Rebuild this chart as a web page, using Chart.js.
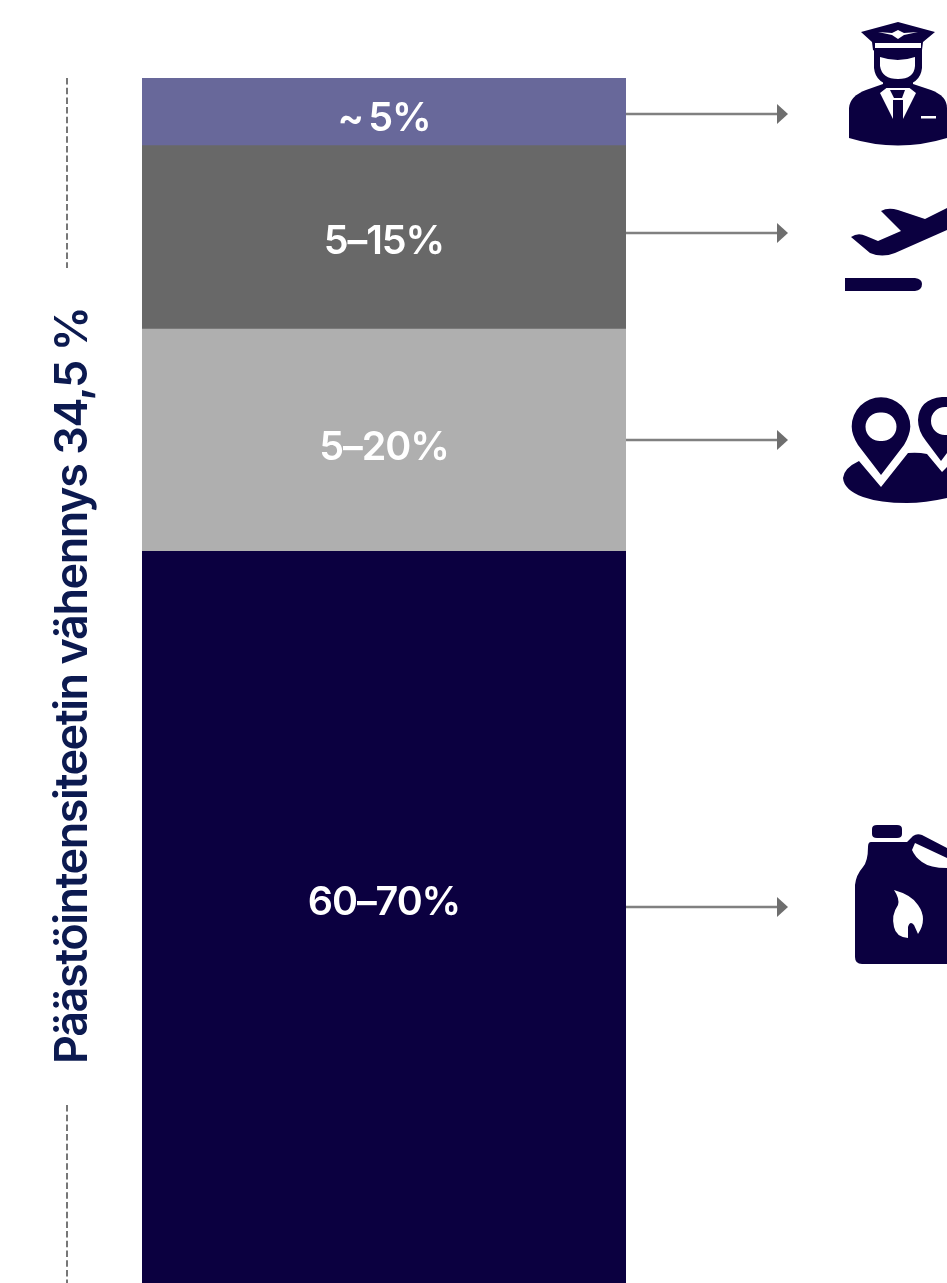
<!DOCTYPE html>
<html>
<head>
<meta charset="utf-8">
<title>Päästöintensiteetin vähennys</title>
<script src="https://cdn.jsdelivr.net/npm/chart.js@4/dist/chart.umd.js"></script>
<style>
html, body { margin: 0; padding: 0; background: #fff; overflow: hidden; }
#wrap { width: 947px; height: 1283px; position: relative; }
</style>
</head>
<body>
<div id="wrap"><canvas id="chart" width="947" height="1283"></canvas></div>
<script>
// segments from top to bottom of the column
var segments = ["Miehistö", "Lentotoiminta", "Reitit", "Polttoaine"];
var shares = [5, 13.7, 16.6, 60];
var shareLabels = ["~\u20095%", "5–15%", "5–20%", "60–70%"];
var segmentColors = ["#68689a", "#686868", "#afafaf", "#0b0040"];
var axisTitle = "Päästöintensiteetin vähennys 34,5 %";

var NAVY = "#0b0040";
var GREY = "#6e6e6e";
var FONT = "Inter, sans-serif";

// text baselines and arrow heights, in canvas pixels
var labelY = [131, 254, 460, 915];
var arrowY = [114, 233, 440, 907];

function fillIcon(ctx, x, y, parts) {
    ctx.save();
    ctx.translate(x, y);
    parts.forEach(function (p) {
        ctx.fillStyle = p[0];
        ctx.fill(new Path2D(p[1]), "evenodd");
    });
    ctx.restore();
}

function drawPilot(ctx) {
    fillIcon(ctx, 830, 10, [
        // body
        [NAVY, "M19 128 L19 98 Q20 86 36 80 L53 74 L83 74 L101 80 Q117 86 117 98 L117 128 Q68 143 19 128 Z"],
        // collar and tie
        ["#fff", "M50 83 L59 76 L77 76 L86 83 L73 109 L73 90 L63 90 L63 109 Z"],
        [NAVY, "M60 80 L75 80 L72 88 L64 88 Z"],
        ["#fff", "M91 106 L106 106 L106 108.5 L91 108.5 Z"],
        // head
        [NAVY, "M44 40 L44 58 Q46 76 68 75 Q90 76 92 58 L92 40 Z"],
        [NAVY, "M53 68 L83 68 L83 78 L53 78 Z"],
        ["#fff", "M50 47 Q68 53 85 47 L85 56 Q84 69 68 69 Q52 69 50 56 Z"],
        // cap
        [NAVY, "M31 22 L68 12 L105 22 L93 32 L92 40 Q68 58 43 40 L42 32 Z"],
        ["#fff", "M45 33 L91 33 L91 38 L45 38 Z"],
        ["#fff", "M48 22 L62 23 L68 20 L74 23 L88 22 L74 25 L68 29 L62 25 Z"]
    ]);
}

function drawPlane(ctx) {
    fillIcon(ctx, 830, 190, [
        [NAVY, "M51 21 Q58 17 68 20 L95 29 L117 18 L117 40 L65 63 Q52 68 40 63 L21 47 Q28 42 36 46 L48 51 L71 41 Z"],
        [NAVY, "M15 88 L85 88 Q92 89 92 94 Q92 100 85 101 L15 101 Z"]
    ]);
}

function drawPins(ctx) {
    fillIcon(ctx, 830, 385, [
        [NAVY, "M51 90 L28 60 Q21.7 50 21.7 41.5 A29.3 29.3 0 0 1 80.3 41.5 Q80 50 74 60 Z M51 27.5 A14.3 14.3 0 1 0 51 56 A14.3 14.3 0 1 0 51 27.5 Z"],
        [NAVY, "M111 76 L96 56 Q88 46 88 35 Q89 14 112 12 L117 12 L117 68 Z M115 22 A14 14 0 0 0 115 50 L117 50 L117 22 Z"],
        [NAVY, "M29 76 L51 102 L78 68 Q88 67 97 69 L112 87 L117 82 L117 113 Q95 118 77 118 Q50 118 33 112 Q14 105 13 93 Q14 83 29 76 Z"]
    ]);
}

function drawCanister(ctx) {
    fillIcon(ctx, 840, 815, [
        [NAVY, "M37 10 L57 10 Q62 10 62 14 L62 19 Q62 23 57 23 L37 23 Q32 23 32 19 L32 14 Q32 10 37 10 Z"],
        [NAVY, "M31 27 L67 27 L73 21 Q77 18 82 20 L107 33 L107 149 L22 149 Q15 149 15 142 L15 70 Q16 60 23 52 Q28 46 28 32 Q28 27 31 27 Z"],
        ["#fff", "M75 28 L107 43 L107 53 Q90 53 82 47 Q75 42 72 35 Z"],
        ["#fff", "M54 75 Q72 80 78 90 Q88 104 78 119 L74 110 Q70 105 68 112 L68 123 Q56 122 54 112 Q51 100 58 90 Q60 84 54 75 Z"]
    ]);
}

// everything around the column: value labels, arrows, dashed rule, rotated title, icons
var extras = {
    id: "extras",
    afterDatasetsDraw: function (chart) {
        var ctx = chart.ctx;
        var area = chart.chartArea;

        ctx.save();
        ctx.fillStyle = "#fff";
        ctx.textAlign = "center";
        ctx.textBaseline = "alphabetic";
        ctx.font = "600 39.5px " + FONT;
        ctx.letterSpacing = "-1.1px";
        shareLabels.forEach(function (text, i) {
            var meta = chart.getDatasetMeta(i);
            ctx.fillText(text, meta.data[0].x, labelY[i]);
        });
        ctx.letterSpacing = "0px";

        arrowY.forEach(function (y) {
            ctx.strokeStyle = "#808080";
            ctx.lineWidth = 2.5;
            ctx.beginPath();
            ctx.moveTo(area.right, y);
            ctx.lineTo(778, y);
            ctx.stroke();
            ctx.fillStyle = GREY;
            ctx.beginPath();
            ctx.moveTo(777, y - 10);
            ctx.lineTo(788, y);
            ctx.lineTo(777, y + 10);
            ctx.closePath();
            ctx.fill();
        });

        ctx.strokeStyle = "#777";
        ctx.lineWidth = 2;
        ctx.setLineDash([6.5, 3.2]);
        ctx.beginPath();
        ctx.moveTo(67, 78);
        ctx.lineTo(67, 268);
        ctx.moveTo(67, 1105);
        ctx.lineTo(67, 1283);
        ctx.stroke();
        ctx.setLineDash([]);

        ctx.translate(87, 1064);
        ctx.rotate(-Math.PI / 2);
        ctx.fillStyle = "#0c1a50";
        ctx.textAlign = "left";
        ctx.font = "600 45px " + FONT;
        ctx.letterSpacing = "-1.45px";
        ctx.fillText(axisTitle, 0, 0);
        ctx.restore();

        drawPilot(ctx);
        drawPlane(ctx);
        drawPins(ctx);
        drawCanister(ctx);
    }
};

var datasets = segments.map(function (name, i) {
    return {
        label: name,
        data: [shares[i]],
        backgroundColor: segmentColors[i],
        borderWidth: 0,
        barPercentage: 1,
        categoryPercentage: 1
    };
});

new Chart(document.getElementById("chart").getContext("2d"), {
    type: "bar",
    data: { labels: [""], datasets: datasets },
    options: {
        responsive: false,
        animation: false,
        layout: { padding: { left: 142, right: 321, top: 78, bottom: 0 } },
        plugins: { legend: { display: false }, tooltip: { enabled: false } },
        scales: {
            x: { display: false, stacked: true },
            // lowest segment runs past the bottom edge
            y: { display: false, stacked: true, reverse: true, min: 0, max: 90 }
        }
    },
    plugins: [extras]
});
</script>
</body>
</html>
